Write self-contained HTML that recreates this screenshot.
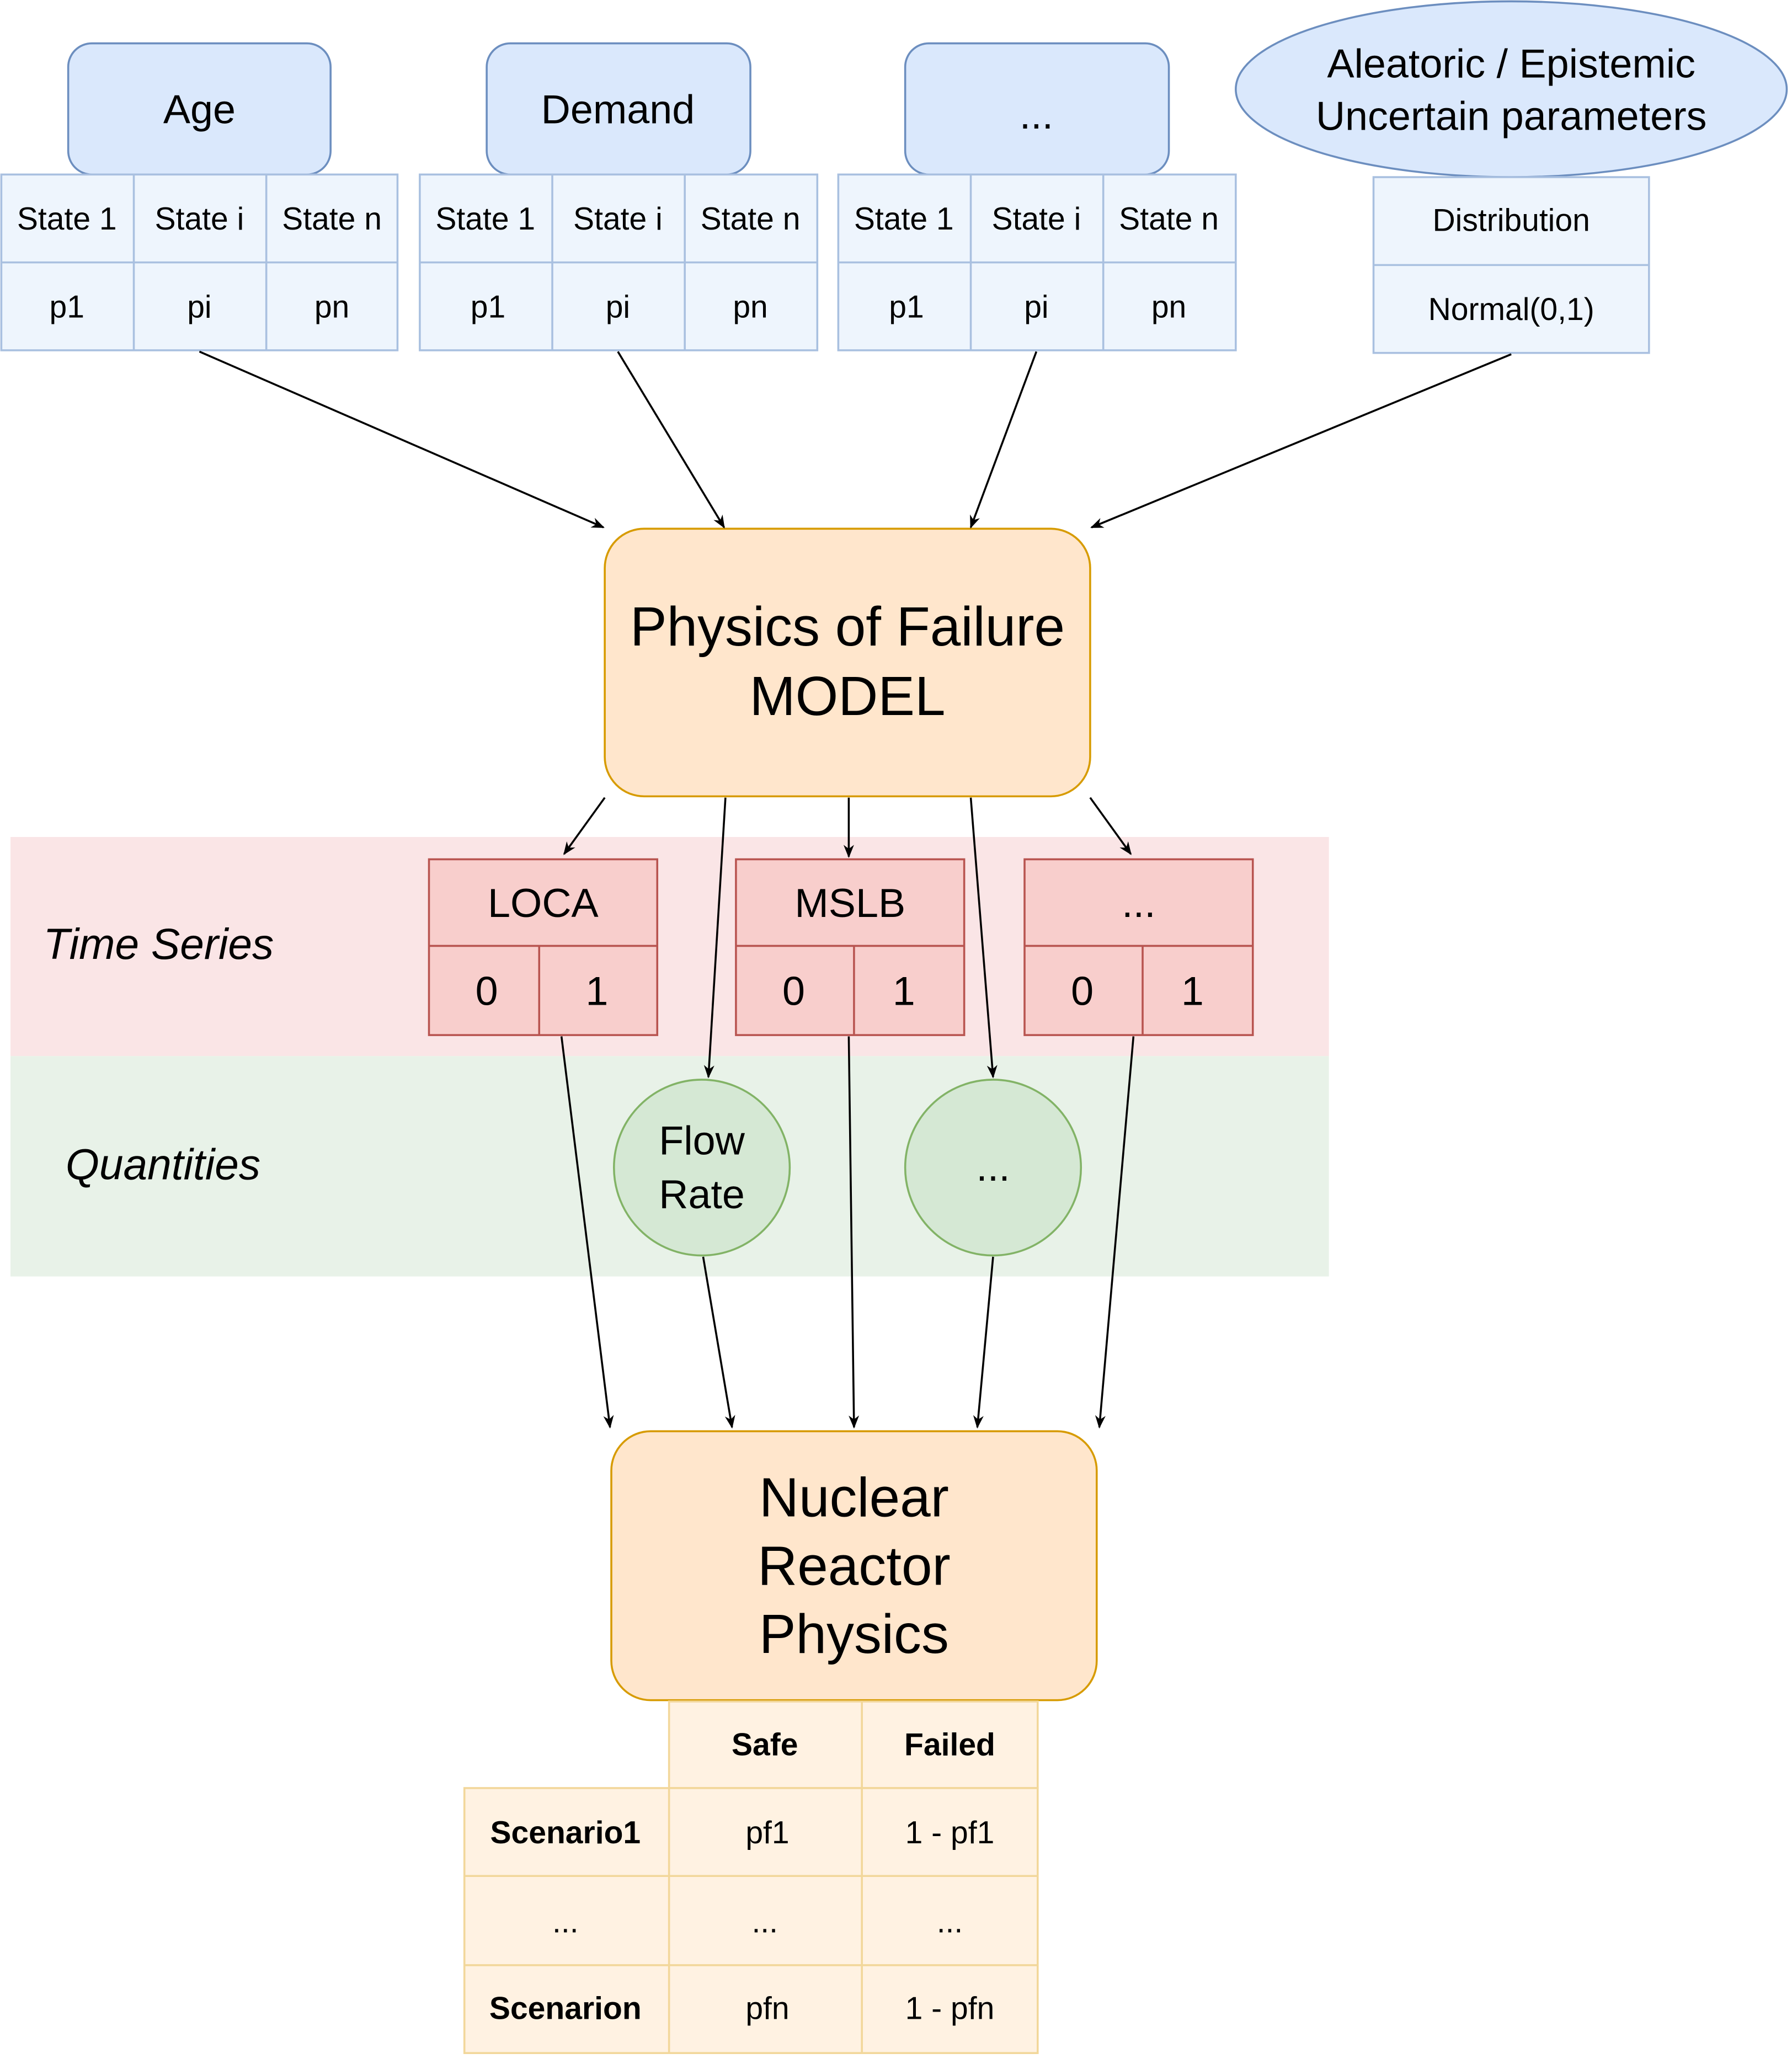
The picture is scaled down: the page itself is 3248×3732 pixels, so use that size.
<!DOCTYPE html>
<html><head><meta charset="utf-8"><style>html,body{margin:0;padding:0;background:#fff}svg{display:block}</style></head><body>
<svg width="3248" height="3732" viewBox="0 0 1366 1569.5" xmlns="http://www.w3.org/2000/svg" font-family="'Liberation Sans', Helvetica, sans-serif">
<defs><marker id="a" markerWidth="10" markerHeight="10" refX="9" refY="5" orient="auto" markerUnits="userSpaceOnUse"><path d="M0,1 L10,5 L0,9 L3,5 z" fill="#000"/></marker></defs>
<rect width="1366" height="1570" fill="#fff"/>
<rect x="8" y="638" width="1005" height="167" fill="#fae5e6"/>
<rect x="8" y="805" width="1005" height="168" fill="#e8f2e8"/>
<g font-size="33" font-style="italic" fill="#000"><text x="33" y="731">Time Series</text><text x="50" y="899">Quantities</text></g>
<g fill="#dae8fc" stroke="#6c8ebf" stroke-width="1.5">
<rect x="52" y="33" width="200" height="100" rx="18"/>
<rect x="371" y="33" width="201" height="100" rx="18"/>
<rect x="690" y="33" width="201" height="100" rx="18"/>
<ellipse cx="1152" cy="68" rx="210" ry="67"/>
</g>
<g font-size="31" text-anchor="middle"><text x="152" y="94">Age</text><text x="471" y="94">Demand</text><text x="790" y="98">...</text>
<text x="1152" y="59">Aleatoric / Epistemic</text><text x="1152" y="99">Uncertain parameters</text></g>
<g fill="#eef5fd" stroke="#a9c0e0" stroke-width="1.5">
<rect x="1" y="133" width="302" height="134"/><line x1="1" y1="200" x2="303" y2="200"/><line x1="102" y1="133" x2="102" y2="267"/><line x1="203" y1="133" x2="203" y2="267"/>
<rect x="320" y="133" width="303" height="134"/><line x1="320" y1="200" x2="623" y2="200"/><line x1="421" y1="133" x2="421" y2="267"/><line x1="522" y1="133" x2="522" y2="267"/>
<rect x="639" y="133" width="303" height="134"/><line x1="639" y1="200" x2="942" y2="200"/><line x1="740" y1="133" x2="740" y2="267"/><line x1="841" y1="133" x2="841" y2="267"/>
<rect x="1047" y="135" width="210" height="134"/><line x1="1047" y1="202" x2="1257" y2="202"/>
</g>
<g font-size="24" text-anchor="middle">
<text x="51" y="175">State 1</text><text x="152" y="175">State i</text><text x="253" y="175">State n</text>
<text x="51" y="242">p1</text><text x="152" y="242">pi</text><text x="253" y="242">pn</text>
<text x="370" y="175">State 1</text><text x="471" y="175">State i</text><text x="572" y="175">State n</text>
<text x="372" y="242">p1</text><text x="471" y="242">pi</text><text x="572" y="242">pn</text>
<text x="689" y="175">State 1</text><text x="790" y="175">State i</text><text x="891" y="175">State n</text>
<text x="691" y="242">p1</text><text x="790" y="242">pi</text><text x="891" y="242">pn</text>
<text x="1152" y="176">Distribution</text><text x="1152" y="244">Normal(0,1)</text>
</g>
<rect x="461" y="403" width="370" height="204" rx="30" fill="#ffe6cc" stroke="#d79b00" stroke-width="1.5"/>
<g font-size="42" text-anchor="middle"><text x="646" y="492">Physics of Failure</text><text x="646" y="545">MODEL</text></g>
<g fill="#f8cecc" stroke="#b85450" stroke-width="1.5">
<rect x="327" y="655" width="174" height="134"/><line x1="327" y1="721" x2="501" y2="721"/><line x1="411" y1="721" x2="411" y2="789"/>
<rect x="561" y="655" width="174" height="134"/><line x1="561" y1="721" x2="735" y2="721"/><line x1="651" y1="721" x2="651" y2="789"/>
<rect x="781" y="655" width="174" height="134"/><line x1="781" y1="721" x2="955" y2="721"/><line x1="871" y1="721" x2="871" y2="789"/>
</g>
<g font-size="31" text-anchor="middle">
<text x="414" y="699">LOCA</text><text x="648" y="699">MSLB</text><text x="868" y="699">...</text>
<text x="371" y="766">0</text><text x="455" y="766">1</text><text x="605" y="766">0</text><text x="689" y="766">1</text><text x="825" y="766">0</text><text x="909" y="766">1</text>
</g>
<g fill="#d5e8d4" stroke="#82b366" stroke-width="1.5"><circle cx="535" cy="890" r="67"/><circle cx="757" cy="890" r="67"/></g>
<g font-size="31" text-anchor="middle"><text x="535" y="880">Flow</text><text x="535" y="921">Rate</text><text x="757" y="900">...</text></g>
<rect x="466" y="1091" width="370" height="205" rx="30" fill="#ffe6cc" stroke="#d79b00" stroke-width="1.5"/>
<g font-size="42" text-anchor="middle"><text x="651" y="1156">Nuclear</text><text x="651" y="1208">Reactor</text><text x="651" y="1260">Physics</text></g>
<g fill="#fff2e2" stroke="#f2d79a" stroke-width="1.5">
<rect x="510" y="1297" width="281" height="66"/>
<rect x="354" y="1363" width="437" height="202"/><line x1="354" y1="1430" x2="791" y2="1430"/><line x1="354" y1="1498" x2="791" y2="1498"/><line x1="510" y1="1363" x2="510" y2="1565"/>
<line x1="657" y1="1297" x2="657" y2="1565"/>
</g>
<g font-size="24" text-anchor="middle">
<text x="583" y="1338" font-weight="bold">Safe</text><text x="724" y="1338" font-weight="bold">Failed</text>
<text x="431" y="1405" font-weight="bold">Scenario1</text><text x="585" y="1405">pf1</text><text x="724" y="1405">1 - pf1</text>
<text x="431" y="1473">...</text><text x="583" y="1473">...</text><text x="724" y="1473">...</text>
<text x="431" y="1539" font-weight="bold">Scenarion</text><text x="585" y="1539">pfn</text><text x="724" y="1539">1 - pfn</text>
</g>
<g stroke="#000" stroke-width="1.5" marker-end="url(#a)">
<line x1="152" y1="268" x2="460" y2="402"/><line x1="471" y1="268" x2="552" y2="402"/><line x1="790" y1="268" x2="740" y2="402"/><line x1="1152" y1="270" x2="832" y2="402"/>
<line x1="461" y1="608" x2="430" y2="651"/><line x1="553" y1="608" x2="540" y2="821"/><line x1="647" y1="608" x2="647" y2="653"/><line x1="740" y1="608" x2="757" y2="821"/><line x1="831" y1="608" x2="862" y2="651"/>
<line x1="428" y1="790" x2="465" y2="1088"/><line x1="536" y1="958" x2="558" y2="1088"/><line x1="647" y1="790" x2="651" y2="1088"/><line x1="757" y1="958" x2="745" y2="1088"/><line x1="864" y1="790" x2="838" y2="1088"/>
</g>
</svg>
</body></html>
